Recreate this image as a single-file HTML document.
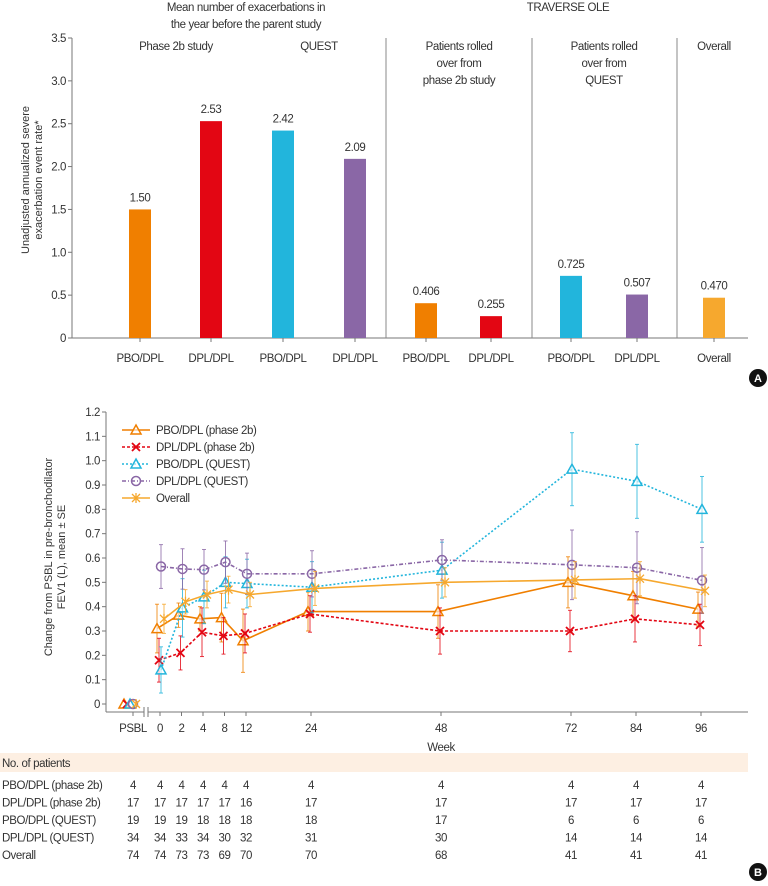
<!DOCTYPE html>
<html><head><meta charset="utf-8"><style>
body{margin:0;background:#fff;width:768px;height:886px;overflow:hidden}
svg{display:block;font-family:"Liberation Sans Narrow","Liberation Sans",sans-serif}
.t{font-size:11.5px;fill:#333;letter-spacing:-0.4px}
</style></head><body>
<svg id="svg" width="768" height="886">
<g id="pa"></g>
<g id="pb"></g>
<g id="tb"></g>
</svg>
<script>
// Panel A data
const barCats = ["PBO/DPL","DPL/DPL","PBO/DPL","DPL/DPL","PBO/DPL","DPL/DPL","PBO/DPL","DPL/DPL","Overall"];
const barVals = [1.50,2.53,2.42,2.09,0.406,0.255,0.725,0.507,0.470];
const barLabels = ["1.50","2.53","2.42","2.09","0.406","0.255","0.725","0.507","0.470"];
const barColors = ["#f07f00","#e30613","#22b5dc","#8a67a6","#f07f00","#e30613","#22b5dc","#8a67a6","#f6a82e"];
const aTicks = [0,0.5,1.0,1.5,2.0,2.5,3.0,3.5];
// Panel B data
const weeks = [0,2,4,8,12,24,48,72,84,96];
const tickLabels = ["PSBL","0","2","4","8","12","24","48","72","84","96"];
const s1 = [0.31,0.365,0.35,0.355,0.26,0.38,0.38,0.50,0.445,0.39];
const e1 = [0.10,0.05,0.05,0.10,0.13,0.08,0.11,0.105,0.10,0.07];
const s2 = [0.18,0.21,0.295,0.28,0.29,0.37,0.30,0.30,0.35,0.325];
const e2 = [0.09,0.07,0.10,0.075,0.08,0.075,0.095,0.085,0.095,0.085];
const s3 = [0.14,0.395,0.44,0.50,0.495,0.48,0.55,0.965,0.915,0.80];
const e3 = [0.095,0.12,0.11,0.105,0.10,0.105,0.115,0.15,0.152,0.135];
const s4 = [0.565,0.555,0.552,0.583,0.535,0.535,0.592,0.572,0.56,0.508];
const e4 = [0.09,0.083,0.083,0.087,0.085,0.095,0.083,0.143,0.148,0.135];
const s5 = [0.35,0.42,0.45,0.47,0.45,0.475,0.50,0.51,0.515,0.465];
const e5 = [0.06,0.05,0.055,0.055,0.05,0.07,0.06,0.075,0.07,0.065];
const bTicks = [0,0.1,0.2,0.3,0.4,0.5,0.6,0.7,0.8,0.9,1.0,1.1,1.2];
const rowNames = ["PBO/DPL (phase 2b)","DPL/DPL (phase 2b)","PBO/DPL (QUEST)","DPL/DPL (QUEST)","Overall"];
const n1 = [4,4,4,4,4,4,4,4,4,4,4];
const n2 = [17,17,17,17,17,16,17,17,17,17,17];
const n3 = [19,19,19,18,18,18,18,17,6,6,6];
const n4 = [34,34,33,34,30,32,31,30,14,14,14];
const n5 = [74,74,73,73,69,70,70,68,41,41,41];

const NS="http://www.w3.org/2000/svg";
function mk(parent,tag,attrs,text){const e=document.createElementNS(NS,tag);for(const k in attrs)e.setAttribute(k,attrs[k]);if(text!==undefined)e.textContent=text;parent.appendChild(e);return e;}

// ---------- Panel A ----------
const pa=document.getElementById('pa');
const ay=v=>338-v*(300/3.5);
const barX=[140,211,283,355,426,491,571,637,714];
mk(pa,'line',{x1:72,y1:38,x2:72,y2:338,stroke:'#777'});
mk(pa,'line',{x1:72,y1:338,x2:748,y2:338,stroke:'#777'});
aTicks.forEach(t=>{
  mk(pa,'line',{x1:68,x2:72,y1:ay(t),y2:ay(t),stroke:'#777'});
  const e=mk(pa,'text',{x:66,y:ay(t)+4,'text-anchor':'end',class:'t'},t===0?'0':t.toFixed(1));
  
  
});
[386,532,677].forEach(x=>mk(pa,'line',{x1:x,x2:x,y1:38,y2:338,stroke:'#888'}));
barVals.forEach((v,i)=>{
  const r=mk(pa,'rect',{x:barX[i]-11,y:ay(v),width:22,height:338-ay(v),fill:barColors[i]});
  
  
  mk(pa,'text',{x:barX[i],y:ay(v)-8,'text-anchor':'middle',class:'t'},barLabels[i]);
  mk(pa,'line',{x1:barX[i],x2:barX[i],y1:338,y2:342,stroke:'#777'});
  const l=mk(pa,'text',{x:barX[i],y:362,'text-anchor':'middle',class:'t'},barCats[i]);
  
  
});
[["Mean number of exacerbations in",246,11],["the year before the parent study",246,28],["TRAVERSE OLE",568,11],["Phase 2b study",176,50],["QUEST",319,50],
 ["Patients rolled",459,50],["over from",459,67],["phase 2b study",459,84],["Patients rolled",604,50],["over from",604,67],["QUEST",604,84],["Overall",714,50]]
 .forEach(a=>mk(pa,'text',{x:a[1],y:a[2],'text-anchor':'middle',class:'t'},a[0]));
const at=mk(pa,'text',{transform:'translate(29,180) rotate(-90)','text-anchor':'middle',class:'t',style:'font-family:"Liberation Sans",sans-serif;font-size:11px;letter-spacing:0'});
mk(at,'tspan',{x:0,y:0},'Unadjusted annualized severe');
mk(at,'tspan',{x:0,y:13},'exacerbation event rate*');


mk(pa,'circle',{cx:758,cy:378,r:9,fill:'#111'});
mk(pa,'text',{x:758,y:382,'text-anchor':'middle',fill:'#fff','font-size':'11','font-weight':'bold'},'A');

// ---------- Panel B ----------
const pb=document.getElementById('pb');
const by=v=>704-v*(292/1.2);
const early=[0,2,4,8,12];
const bx=w=>{const i=early.indexOf(w);return i>=0?160+i*21.5:246+(w-12)*(65/12);};
mk(pb,'line',{x1:106,y1:412,x2:106,y2:712,stroke:'#777'});
mk(pb,'line',{x1:106,y1:712,x2:748,y2:712,stroke:'#777'});
mk(pb,'rect',{x:144,y:707,width:4,height:10,fill:'#fff'});
mk(pb,'line',{x1:144,x2:144,y1:707,y2:717,stroke:'#777'});
mk(pb,'line',{x1:148,x2:148,y1:707,y2:717,stroke:'#777'});
bTicks.forEach(t=>{
  mk(pb,'line',{x1:102,x2:106,y1:by(t),y2:by(t),stroke:'#777'});
  mk(pb,'text',{x:100,y:by(t)+4,'text-anchor':'end',class:'t'},t===0?'0':t.toFixed(1));
});
const tickX=[133].concat(weeks.map(bx));
tickLabels.forEach((l,i)=>{
  mk(pb,'line',{x1:tickX[i],x2:tickX[i],y1:712,y2:716,stroke:'#777'});
  const e=mk(pb,'text',{x:tickX[i],y:732,'text-anchor':'middle',class:'t'},l);
  
  
});
mk(pb,'text',{x:441,y:751,'text-anchor':'middle',class:'t'},'Week');
const bt=mk(pb,'text',{transform:'translate(52,557) rotate(-90)','text-anchor':'middle',class:'t',style:'font-family:"Liberation Sans",sans-serif;font-size:11px;letter-spacing:0'});
mk(bt,'tspan',{x:0,y:0},'Change from PSBL in pre-bronchodilator');
mk(bt,'tspan',{x:0,y:13},'FEV1 (L), mean ± SE');



function marker(g,type,x,y,c){
  if(type==='tri')mk(g,'path',{d:`M${x} ${y-5}L${x+5} ${y+4}L${x-5} ${y+4}Z`,fill:'#fff','fill-opacity':0.6,stroke:c,'stroke-width':1.5});
  else if(type==='x'){mk(g,'path',{d:`M${x-4} ${y-4}L${x+4} ${y+4}M${x+4} ${y-4}L${x-4} ${y+4}`,stroke:c,'stroke-width':1.8});}
  else if(type==='circ')mk(g,'circle',{cx:x,cy:y,r:4.5,fill:'none',stroke:c,'stroke-width':1.5});
  else if(type==='star'){mk(g,'path',{d:`M${x-4} ${y-4}L${x+4} ${y+4}M${x+4} ${y-4}L${x-4} ${y+4}M${x} ${y-5}L${x} ${y+5}`,stroke:c,'stroke-width':1.3});}
}
const series=[
 {name:'PBO/DPL (phase 2b)',v:s1,e:e1,c:'#f07f00',dash:'',m:'tri',off:-3},
 {name:'DPL/DPL (phase 2b)',v:s2,e:e2,c:'#e30613',dash:'3,2',m:'x',off:-1},
 {name:'PBO/DPL (QUEST)',v:s3,e:e3,c:'#22b5dc',dash:'2,2',m:'tri',off:1},
 {name:'DPL/DPL (QUEST)',v:s4,e:e4,c:'#8a67a6',dash:'4,2,1,2',m:'circ',off:1},
 {name:'Overall',v:s5,e:e5,c:'#f6a82e',dash:'',m:'star',off:4}];
series.forEach((s,si)=>{
  const g=mk(pb,'g',{});
  
  
  s.v.forEach((v,i)=>{
    const x=bx(weeks[i])+s.off;
    mk(g,'line',{x1:x,x2:x,y1:by(v+s.e[i]),y2:by(v-s.e[i]),stroke:s.c,'stroke-width':1,opacity:0.8});
    mk(g,'line',{x1:x-2,x2:x+2,y1:by(v+s.e[i]),y2:by(v+s.e[i]),stroke:s.c,opacity:0.8});
    mk(g,'line',{x1:x-2,x2:x+2,y1:by(v-s.e[i]),y2:by(v-s.e[i]),stroke:s.c,opacity:0.8});
  });
  const pts=s.v.map((v,i)=>(bx(weeks[i])+s.off)+','+by(v)).join(' ');
  mk(g,'polyline',{points:pts,fill:'none',stroke:s.c,'stroke-width':1.6,'stroke-dasharray':s.dash});
  s.v.forEach((v,i)=>marker(g,s.m,bx(weeks[i])+s.off,by(v),s.c));
  marker(g,s.m,124+si*3,by(0),s.c);
  const ly=430+si*17;
  const lg=mk(pb,'g',{});
  
  
  mk(lg,'line',{x1:122,x2:150,y1:ly,y2:ly,stroke:s.c,'stroke-width':1.6,'stroke-dasharray':s.dash});
  marker(lg,s.m,136,ly,s.c);
  mk(lg,'text',{x:156,y:ly+4,class:'t'},s.name);
});
mk(pb,'circle',{cx:758,cy:872,r:9,fill:'#111'});
mk(pb,'text',{x:758,y:876,'text-anchor':'middle',fill:'#fff','font-size':'11','font-weight':'bold'},'B');

// ---------- Table ----------
const tb=document.getElementById('tb');
mk(tb,'rect',{x:0,y:753,width:748,height:19,fill:'#fdefe2'});
mk(tb,'text',{x:2,y:767,class:'t'},'No. of patients');
[n1,n2,n3,n4,n5].forEach((row,r)=>{
  const y=789+r*17.5;
  const l=mk(tb,'text',{x:2,y:y,class:'t'},rowNames[r]);
  
  
  row.forEach((n,i)=>mk(tb,'text',{x:tickX[i],y:y,'text-anchor':'middle',class:'t'},n));
});
</script>
</body></html>
